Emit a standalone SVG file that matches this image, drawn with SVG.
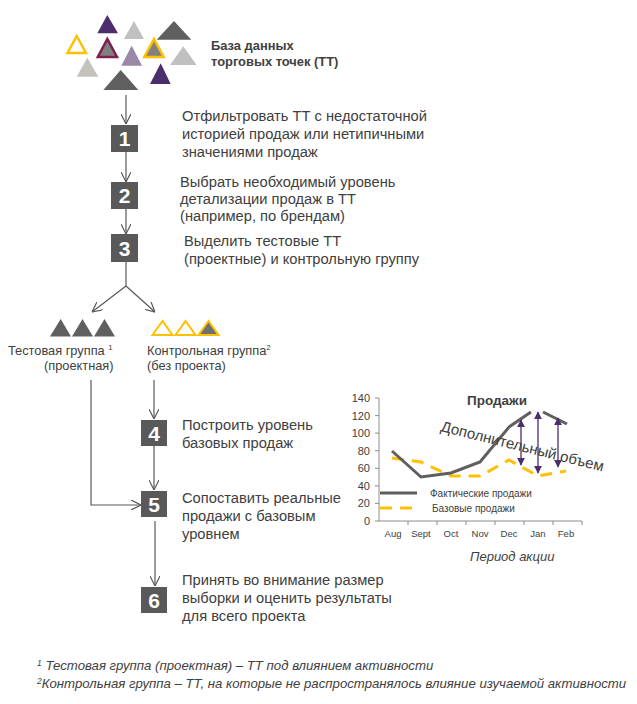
<svg xmlns="http://www.w3.org/2000/svg" width="637" height="704" viewBox="0 0 637 704">
<defs>
<style>
text{font-family:"Liberation Sans",Arial,sans-serif;fill:#404040}
.st{font-size:14.7px}
.hd{font-size:12.9px;font-weight:bold}
.lb{font-size:12.8px}
.num{font-size:21px;font-weight:bold;fill:#fff}
.box{fill:#595959}
.con{stroke:#595959;stroke-width:1.2;fill:none}
.yl{font-size:11px;text-anchor:end}
.xl{font-size:9.5px;text-anchor:middle}
.fn{font-size:13.2px;font-style:italic}
.ax{stroke:#8c8c8c;stroke-width:1;fill:none}
.dk{fill:#5f5f5f}
.pu{fill:#4b2e6b}
.lg{fill:#c0c0c0}
</style>
<marker id="v" viewBox="0 0 10 10" refX="10" refY="5" markerWidth="10" markerHeight="10" markerUnits="userSpaceOnUse" orient="auto">
<path d="M0,0 L10,5 L0,10" fill="none" stroke="#595959" stroke-width="1.2"/>
</marker>
<marker id="pa" viewBox="0 0 10 10" refX="9" refY="5" markerWidth="8" markerHeight="8" markerUnits="userSpaceOnUse" orient="auto-start-reverse">
<path d="M0,0 L10,5 L0,10 Z" fill="#4b2e6b"/>
</marker>
</defs>
<rect width="637" height="704" fill="#fff"/>

<g id="database">
<polygon class="pu" points="107.3,15 97.3,33.3 118,33.3"/>
<polygon class="lg" points="134,21 124,39 144,39"/>
<polygon class="dk" points="174,21 156.7,39.7 191.3,39.7"/>
<polygon points="76.7,36 67.5,53 86,53" fill="none" stroke="#ffc000" stroke-width="2.5"/>
<polygon points="107.3,39 97.8,57 117,57" fill="#808080" stroke="#7f1f4f" stroke-width="2.5"/>
<polygon points="131.7,45.7 121.3,65.7 142,65.7" fill="#9b88a8"/>
<polygon points="154,39 144.3,57 163.7,57" fill="#808080" stroke="#ffc000" stroke-width="2.5"/>
<polygon class="lg" points="183.3,46.3 170,65 196.7,65"/>
<polygon points="87.3,57.7 76.7,76.7 98.3,76.7" fill="#c4c2ba"/>
<polygon class="dk" points="120.7,70 103.3,90 138.3,90"/>
<polygon class="pu" points="160.7,63.3 150,84 170.7,84"/>
<text class="hd" x="211" y="50">База данных</text>
<text class="hd" x="211" y="66">торговых точек (ТТ)</text>
</g>

<g id="connectors">
<line class="con" x1="126" y1="95" x2="126" y2="124" marker-end="url(#v)"/>
<line class="con" x1="126" y1="152" x2="126" y2="182" marker-end="url(#v)"/>
<line class="con" x1="126" y1="209" x2="126" y2="234" marker-end="url(#v)"/>
<polyline class="con" points="126,262 126,286"/>
<line class="con" x1="126" y1="286" x2="92" y2="312" marker-end="url(#v)"/>
<line class="con" x1="126" y1="286" x2="155" y2="312" marker-end="url(#v)"/>
<line class="con" x1="154" y1="380" x2="154" y2="419" marker-end="url(#v)"/>
<line class="con" x1="154" y1="446" x2="154" y2="490" marker-end="url(#v)"/>
<polyline class="con" points="91,380 91,505 141,505" stroke="#7f7f7f" marker-end="url(#v)"/>
<line class="con" x1="155" y1="521" x2="155" y2="586" marker-end="url(#v)"/>
</g>

<g id="step1">
<rect class="box" x="111" y="125" width="27" height="27"/>
<text class="num" x="124.5" y="146" text-anchor="middle">1</text>
<text class="st" x="182" y="121">Отфильтровать ТТ с недостаточной</text>
<text class="st" x="182" y="139">историей продаж или нетипичными</text>
<text class="st" x="182" y="157">значениями продаж</text>
</g>
<g id="step2">
<rect class="box" x="111" y="182" width="27" height="27"/>
<text class="num" x="124.5" y="203" text-anchor="middle">2</text>
<text class="st" x="180" y="187">Выбрать необходимый уровень</text>
<text class="st" x="180" y="204">детализации продаж в ТТ</text>
<text class="st" x="180" y="221">(например, по брендам)</text>
</g>
<g id="step3">
<rect class="box" x="111" y="234" width="27" height="28"/>
<text class="num" x="124.5" y="256" text-anchor="middle">3</text>
<text class="st" x="184" y="246">Выделить тестовые ТТ</text>
<text class="st" x="184" y="264">(проектные) и контрольную группу</text>
</g>

<g id="test-group">
<polygon class="dk" points="60.7,319 50,336.5 71,336.5"/>
<polygon class="dk" points="82.5,319 72,336.5 93,336.5"/>
<polygon class="dk" points="104.5,319 94,336.5 115,336.5"/>
<text class="lb" x="8" y="355">Тестовая группа <tspan font-size="8" dy="-5">1</tspan></text>
<text class="lb" x="44" y="370">(проектная)</text>
</g>
<g id="control-group">
<polygon points="162.5,321 152.5,335 172.5,335" fill="none" stroke="#ffc000" stroke-width="2"/>
<polygon points="185.5,321 175.5,335 195.5,335" fill="none" stroke="#ffc000" stroke-width="2"/>
<polygon points="208.5,321 198.5,335 218.5,335" fill="#6f6f6f" stroke="#ffc000" stroke-width="2"/>
<text class="lb" x="147" y="355">Контрольная группа<tspan font-size="8" dy="-5">2</tspan></text>
<text class="lb" x="147" y="370">(без проекта)</text>
</g>

<g id="step4">
<rect class="box" x="141" y="420" width="26" height="26"/>
<text class="num" x="154" y="441" text-anchor="middle">4</text>
<text class="st" x="182" y="430">Построить уровень</text>
<text class="st" x="182" y="448">базовых продаж</text>
</g>
<g id="step5">
<rect class="box" x="141" y="491" width="26" height="26"/>
<text class="num" x="154" y="512" text-anchor="middle">5</text>
<text class="st" x="182" y="503">Сопоставить реальные</text>
<text class="st" x="182" y="521">продажи с базовым</text>
<text class="st" x="182" y="539">уровнем</text>
</g>
<g id="step6">
<rect class="box" x="141" y="587" width="26" height="26"/>
<text class="num" x="154" y="608" text-anchor="middle">6</text>
<text class="st" x="182" y="585">Принять во внимание размер</text>
<text class="st" x="182" y="603">выборки и оценить результаты</text>
<text class="st" x="182" y="621">для всего проекта</text>
</g>

<g id="chart">
<text x="467" y="405" font-size="13.5" font-weight="bold" fill="#595959">Продажи</text>
<path class="ax" d="M379,398 V521 H582 M375,398 H379 M375,415.6 H379 M375,433.1 H379 M375,450.7 H379 M375,468.3 H379 M375,485.9 H379 M375,503.4 H379 M375,521 H379 M408,521 V525 M437,521 V525 M466,521 V525 M495,521 V525 M524,521 V525 M553,521 V525 M582,521 V525"/>
<g class="yl">
<text class="yl" x="370" y="402">140</text>
<text class="yl" x="370" y="419.6">120</text>
<text class="yl" x="370" y="437.1">100</text>
<text class="yl" x="370" y="454.7">80</text>
<text class="yl" x="370" y="472.3">60</text>
<text class="yl" x="370" y="489.9">40</text>
<text class="yl" x="370" y="507.4">20</text>
<text class="yl" x="370" y="525">0</text>
</g>
<text class="xl" x="393" y="537">Aug</text>
<text class="xl" x="421" y="537">Sept</text>
<text class="xl" x="451" y="537">Oct</text>
<text class="xl" x="480" y="537">Nov</text>
<text class="xl" x="509" y="537">Dec</text>
<text class="xl" x="538" y="537">Jan</text>
<text class="xl" x="566" y="537">Feb</text>
<polyline points="392,458 421,462 451,476 480,476 509,460 538,476 566,471" fill="none" stroke="#ffc000" stroke-width="3" stroke-dasharray="12,8"/>
<polyline points="392,451 421,477 451,473 480,462 509,427 531,412" fill="none" stroke="#5f5f5f" stroke-width="3"/>
<polyline points="543,412 567,424" fill="none" stroke="#5f5f5f" stroke-width="3"/>
<g stroke="#4b2e6b" stroke-width="1.3">
<line x1="521" y1="420" x2="521" y2="465" marker-start="url(#pa)" marker-end="url(#pa)"/>
<line x1="538" y1="412" x2="538" y2="473" marker-start="url(#pa)" marker-end="url(#pa)"/>
<line x1="558" y1="418" x2="558" y2="467" marker-start="url(#pa)" marker-end="url(#pa)"/>
</g>
<text x="0" y="0" font-size="15" fill="#595959" transform="translate(440,431) rotate(14)">Дополнительный объем</text>
<line x1="380" y1="493" x2="417" y2="493" stroke="#5f5f5f" stroke-width="3"/>
<text x="430" y="497" font-size="10">Фактические продажи</text>
<line x1="380" y1="508" x2="414" y2="508" stroke="#ffc000" stroke-width="3" stroke-dasharray="12,8"/>
<text x="432" y="512" font-size="10">Базовые продажи</text>
<text x="470" y="561" font-size="13" font-style="italic">Период акции</text>
</g>

<g id="footnotes">
<text class="fn" x="37" y="670"><tspan font-size="8.5" dy="-4">1</tspan><tspan dy="4"> Тестовая группа (проектная) – ТТ под влиянием активности</tspan></text>
<text class="fn" x="37" y="688"><tspan font-size="8.5" dy="-4">2</tspan><tspan dy="4">Контрольная группа – ТТ, на которые не распространялось влияние изучаемой активности</tspan></text>
</g>
</svg>
